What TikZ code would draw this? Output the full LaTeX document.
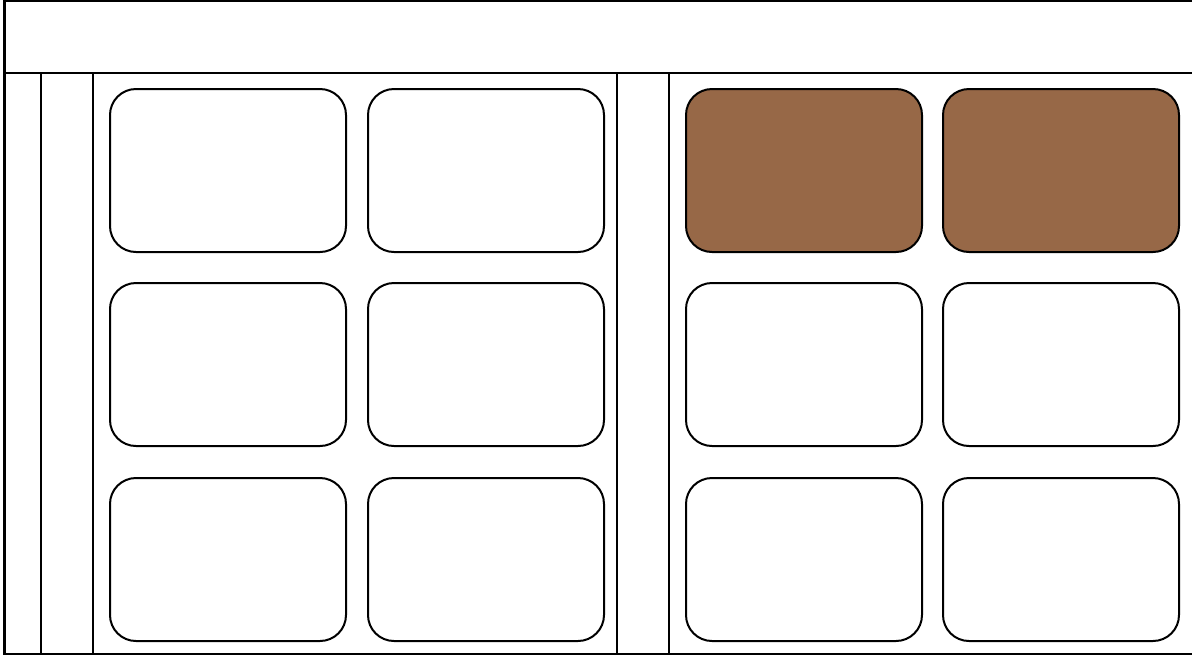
\documentclass[tikz,border=0pt]{standalone}
\definecolor{brownfill}{RGB}{151,104,71}
\tikzset{
  frame/.style={draw=black, line width=2.4pt},
  divider/.style={draw=black, line width=2pt},
  card/.style={draw=black, line width=2pt, rounded corners=26pt, minimum width=236pt, minimum height=163pt, inner sep=0pt, fill=white, anchor=north west},
  browncard/.style={card, fill=brownfill}
}
\begin{document}
\begin{tikzpicture}[x=1pt,y=-1pt]
\clip (0,0) rectangle (1192,657);
\fill[white] (0,0) rectangle (1192,657);
% outer frame and header
\draw[frame] (4.5,1.2) rectangle (1210,654);
\draw[frame] (4.5,73) -- (1210,73);
% vertical dividers
\draw[divider] (41,73) -- (41,654);
\draw[divider] (93,73) -- (93,654);
\draw[divider] (617,73) -- (617,654);
\draw[divider] (669,73) -- (669,654);
% cards left group
\node[card] (a1) at (109,88) {};
\node[card] (a2) at (367,88) {};
\node[card] (b1) at (109,282) {};
\node[card] (b2) at (367,282) {};
\node[card] (c1) at (109,477) {};
\node[card] (c2) at (367,477) {};
% cards right group
\node[browncard] (d1) at (685,88) {};
\node[browncard] (d2) at (942,88) {};
\node[card] (e1) at (685,282) {};
\node[card] (e2) at (942,282) {};
\node[card] (f1) at (685,477) {};
\node[card] (f2) at (942,477) {};
\end{tikzpicture}
\end{document}
